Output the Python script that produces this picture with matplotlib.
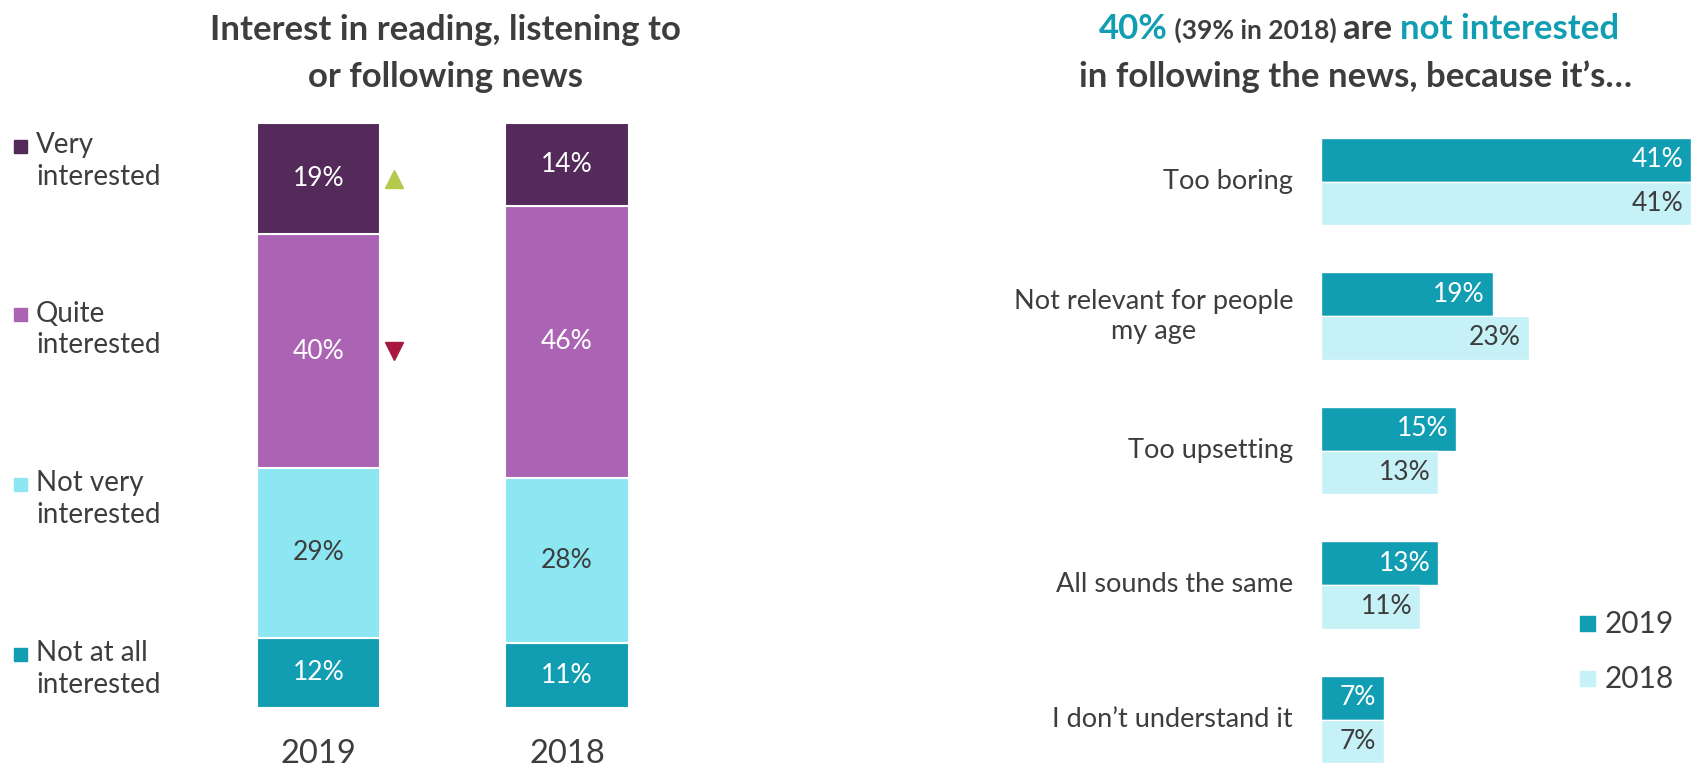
import matplotlib
matplotlib.use("Agg")
import matplotlib.pyplot as plt
from matplotlib.patches import Rectangle
import numpy as np

plt.rcParams['font.family'] = ['Lato', 'DejaVu Sans']

# data - left chart (stacked, bottom to top)
years = ['2019', '2018']
levels = ['Not at all\ninterested', 'Not very\ninterested', 'Quite\ninterested', 'Very\ninterested']
vals_2019 = [12, 29, 40, 19]
vals_2018 = [11, 28, 46, 14]

# data - right chart
reasons = ['Too boring', 'Not relevant for people\nmy age', 'Too upsetting',
           'All sounds the same', 'I don\u2019t understand it']
reasons_2019 = [41, 19, 15, 13, 7]
reasons_2018 = [41, 23, 13, 11, 7]

# colours
dark = '#3d3d3d'
teal = '#119db2'
level_colors = ['#119db2', '#8ce7f3', '#ab64b4', '#532a5a']
level_text = ['white', dark, 'white', 'white']
c2018 = '#c5f1f7'

W, H = 1694, 769
fig = plt.figure(figsize=(W / 100, H / 100), dpi=100)

def fx(px):
    return px / W

def fy(py):
    return 1 - py / H

# ---------- left chart ----------
ax = fig.add_axes([fx(169.4), fy(708), fx(716.1) - fx(169.4), (708 - 123) / H])
x = np.arange(len(years))
data = np.array([vals_2019, vals_2018], dtype=float)
pct = data / data.sum(axis=1, keepdims=True) * 100
bottom = np.zeros(len(years))
for i in range(len(levels)):
    ax.bar(x, pct[:, i], 0.495, bottom=bottom, color=level_colors[i],
           edgecolor='white', linewidth=1.5)
    for j in range(len(years)):
        ax.text(x[j], bottom[j] + pct[j, i] / 2, f'{int(data[j, i])}%',
                ha='center', va='center', fontsize=19, color=level_text[i])
    bottom += pct[:, i]

# change markers for 2019 vs 2018
mid_very = pct[0, 0] + pct[0, 1] + pct[0, 2] + pct[0, 3] / 2
mid_quite = pct[0, 0] + pct[0, 1] + pct[0, 2] / 2
ax.plot(0.304, mid_very, marker='^', color='#b5c94c', markersize=13, clip_on=False)
ax.plot(0.304, mid_quite, marker='v', color='#a8173f', markersize=13, clip_on=False)

ax.set_xlim(-0.6, 1.6)
ax.set_ylim(0, 100)
ax.set_xticks(x)
ax.set_xticklabels(years, fontsize=23.5, color=dark)
ax.tick_params(axis='x', length=0, pad=22)
ax.set_yticks([])
for s in ax.spines.values():
    s.set_visible(False)

fig.text(fx(445), fy(30), 'Interest in reading, listening to', ha='center', va='center',
         fontsize=25, fontweight='bold', color=dark)
fig.text(fx(445), fy(77), 'or following news', ha='center', va='center',
         fontsize=25, fontweight='bold', color=dark)

# left legend (top to bottom)
leg_y = [161, 329.5, 499, 669]
for k, lab in enumerate(levels[::-1]):
    col = level_colors[::-1][k]
    fig.patches.append(Rectangle((fx(14), fy(leg_y[k] - 8)), 13 / W, 13 / H,
                                 transform=fig.transFigure, color=col))
    fig.text(fx(36), fy(leg_y[k]), lab, ha='left', va='center', fontsize=20,
             color=dark, linespacing=1.25)

# ---------- right chart ----------
ax2 = fig.add_axes([fx(1321), 0, 1 - fx(1321), fy(100)])
y = np.arange(len(reasons))
bh = 0.327
ax2.barh(y - bh / 2, reasons_2019, bh, color=teal, edgecolor='white', linewidth=1)
ax2.barh(y + bh / 2, reasons_2018, bh, color=c2018, edgecolor='white', linewidth=1)
for i in range(len(reasons)):
    ax2.text(reasons_2019[i] - 0.9, y[i] - bh / 2, f'{reasons_2019[i]}%', ha='right',
             va='center', fontsize=19, color='white')
    ax2.text(reasons_2018[i] - 0.9, y[i] + bh / 2, f'{reasons_2018[i]}%', ha='right',
             va='center', fontsize=19, color=dark)
    ax2.text(-3.1, y[i], reasons[i], ha='right', va='center', fontsize=19.5,
             color=dark, multialignment='center', linespacing=1.25)
ax2.set_xlim(0, 373 / 9.03)
ax2.set_ylim(4 + (769 - 719.5) / 134.5, -(181.5 - 100) / 134.5)
ax2.set_xticks([])
ax2.set_yticks([])
for s in ax2.spines.values():
    s.set_visible(False)

# right legend
for py, col, lab in [(624, teal, '2019'), (679, c2018, '2018')]:
    fig.patches.append(Rectangle((fx(1580), fy(py + 7)), 15 / W, 15 / H,
                                 transform=fig.transFigure, color=col))
    fig.text(fx(1605), fy(py), lab, ha='left', va='center', fontsize=21.5, color=dark)

# right title with mixed colours
renderer = fig.canvas.get_renderer()
pieces = [('40%', teal, 25), (' (39% in 2018) ', dark, 19), ('are ', dark, 25),
          ('not interested', teal, 25)]
texts = []
for s, col, size in pieces:
    t = fig.text(0, fy(29), s, ha='left', va='baseline', fontsize=size,
                 fontweight='bold', color=col)
    texts.append(t)
widths = [t.get_window_extent(renderer).width for t in texts]
start = 1359 - sum(widths) / 2
base = fy(30) - 9 / H
for t, w in zip(texts, widths):
    t.set_position((fx(start), base))
    start += w
fig.text(fx(1356), fy(77), 'in following the news, because it\u2019s\u2026', ha='center',
         va='center', fontsize=25, fontweight='bold', color=dark)

fig.savefig('out.png', dpi=100)
